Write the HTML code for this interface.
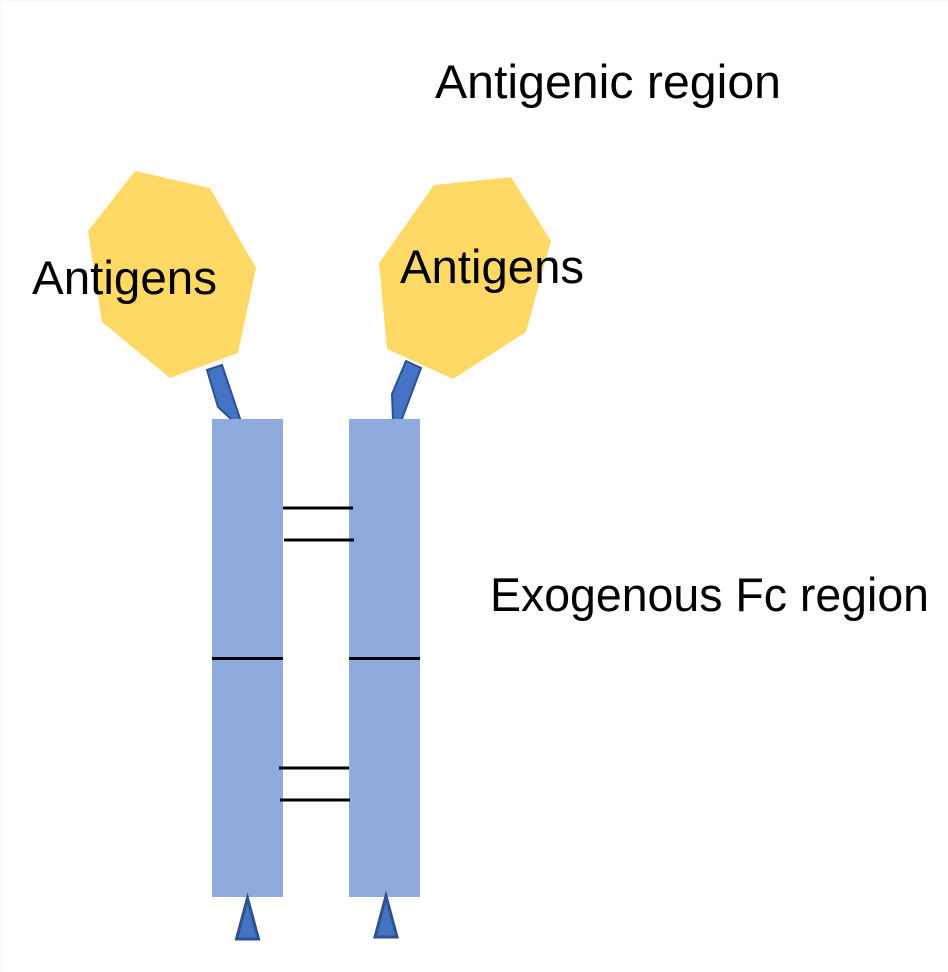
<!DOCTYPE html>
<html>
<head>
<meta charset="utf-8">
<style>
html,body{margin:0;padding:0;background:#fff;width:948px;height:972px;overflow:hidden}
svg{display:block}
text{font-family:"Liberation Sans",sans-serif;font-size:47px;fill:#000}
</style>
</head>
<body>
<svg width="948" height="972" viewBox="0 0 948 972" xmlns="http://www.w3.org/2000/svg">
<rect width="948" height="972" fill="#fff"/>
<line x1="0" y1="0.500" x2="948" y2="0.500" stroke="#f7f7f7" stroke-width="1"/>
<line x1="0.500" y1="0" x2="0.500" y2="972" stroke="#f7f7f7" stroke-width="1"/>
<polygon points="135,171 210,188 256,268 238,353 170,378 102,322 88,231" fill="#ffd966"/>
<polygon points="434,185 511,177 551,241 526,332 453,379 387,349 379,263" fill="#ffd966"/>
<polygon points="207,370 222,365 240.500,420 232,420 218,407" fill="#4472c4" stroke="#2f528f" stroke-width="2"/>
<polygon points="406,361 421,368 401.500,420 393,420 392,394" fill="#4472c4" stroke="#2f528f" stroke-width="2"/>
<rect x="212" y="419" width="71" height="478" fill="#8faadc"/>
<rect x="349" y="419" width="71" height="478" fill="#8faadc"/>
<g stroke="#000" stroke-width="3">
<line x1="283" y1="508" x2="353" y2="508"/>
<line x1="284" y1="540" x2="354" y2="540"/>
<line x1="212" y1="658.500" x2="283" y2="658.500"/>
<line x1="349" y1="658.500" x2="420" y2="658.500"/>
<line x1="279" y1="768" x2="349" y2="768"/>
<line x1="280" y1="800" x2="350" y2="800"/>
</g>
<polygon points="247.500,898 258.500,939 236.500,939" fill="#4472c4" stroke="#2f528f" stroke-width="3" stroke-miterlimit="10"/>
<polygon points="386,896 397,937 375,937" fill="#4472c4" stroke="#2f528f" stroke-width="3" stroke-miterlimit="10"/>
<text x="435" y="98" textLength="346" lengthAdjust="spacingAndGlyphs">Antigenic region</text>
<text x="32" y="294" textLength="185" lengthAdjust="spacingAndGlyphs">Antigens</text>
<text x="400" y="283" textLength="184" lengthAdjust="spacingAndGlyphs">Antigens</text>
<text x="490" y="611" textLength="439" lengthAdjust="spacingAndGlyphs">Exogenous Fc region</text>
</svg>
</body>
</html>
